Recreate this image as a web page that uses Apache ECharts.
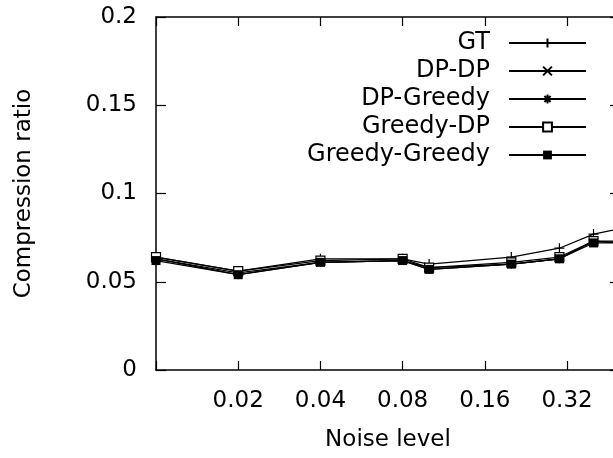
<!DOCTYPE html>
<html>
<head>
<meta charset="utf-8">
<script src="https://cdn.jsdelivr.net/npm/echarts@6/dist/echarts.min.js"></script>
<style>
html,body{margin:0;padding:0;background:#fff;}
#chart{width:613px;height:458px;}
</style>
</head>
<body>
<div id="chart"></div>
<script>
// Noise levels (x values)
var noiseLevels = [0.01, 0.02, 0.04, 0.08, 0.1, 0.2, 0.3, 0.4, 0.5];
// Compression ratio per method
var gtValues           = [0.064, 0.056, 0.063, 0.063, 0.060, 0.064, 0.069, 0.077, 0.080];
var dpDpValues         = [0.063, 0.055, 0.061, 0.062, 0.058, 0.060, 0.063, 0.073, 0.072];
var dpGreedyValues     = [0.063, 0.054, 0.061, 0.062, 0.057, 0.060, 0.063, 0.073, 0.072];
var greedyDpValues     = [0.064, 0.056, 0.062, 0.063, 0.058, 0.061, 0.064, 0.073, 0.073];
var greedyGreedyValues = [0.062, 0.054, 0.061, 0.062, 0.057, 0.060, 0.063, 0.072, 0.072];
var seriesNames = ['GT', 'DP-DP', 'DP-Greedy', 'Greedy-DP', 'Greedy-Greedy'];
// Tick labels
var xTickLabels = ['', '0.02', '0.04', '0.08', '0.16', '0.32'];
var yTickLabels = ['0', '0.05', '0.1', '0.15', '0.2'];
var xBase = 0.01;
var xMaxValue = 0.5;

function lx(v) { return Math.log(v / xBase) / Math.LN2; }
function pairs(vals) {
  return noiseLevels.map(function (n, i) { return [lx(n), vals[i]]; });
}
function xLabel(v) {
  var r = Math.round(v);
  if (Math.abs(v - r) > 1e-6) return '';
  return xTickLabels[r] || '';
}
function yLabel(v) {
  var r = Math.round(v / 0.05);
  return yTickLabels[r] || '';
}

var FONT = 'DejaVu Sans';
var chart = echarts.init(document.getElementById('chart'));

var strokeSymbolStyle = { color: 'rgba(0,0,0,0)', borderColor: '#000', borderWidth: 1.2 };
var lineStyle = { color: '#000', width: 1.2 };

function mk(name, vals, symbol, size, itemStyle) {
  return {
    name: name,
    type: 'line',
    data: pairs(vals),
    symbol: symbol,
    symbolSize: size,
    showAllSymbol: true,
    lineStyle: lineStyle,
    itemStyle: itemStyle,
    emphasis: { disabled: true },
    xAxisIndex: 0,
    yAxisIndex: 0
  };
}

function xAxisDef(pos, extra) {
  return Object.assign({
    type: 'value',
    gridIndex: 0,
    position: pos,
    min: 0,
    max: lx(xMaxValue),
    interval: 1,
    axisLine: { show: true, onZero: false, lineStyle: { color: '#000', width: 1.5 } },
    axisTick: { show: true, inside: true, length: 9, lineStyle: { color: '#000', width: 1.2 } },
    splitLine: { show: false }
  }, extra);
}
function yAxisDef(pos, extra) {
  return Object.assign({
    type: 'value',
    gridIndex: 0,
    position: pos,
    min: 0,
    max: 0.2,
    interval: 0.05,
    axisLine: { show: true, onZero: false, lineStyle: { color: '#000', width: 1.5 } },
    axisTick: { show: true, inside: true, length: 10, lineStyle: { color: '#000', width: 1.2 } },
    splitLine: { show: false }
  }, extra);
}

var option = {
  animation: false,
  backgroundColor: '#fff',
  grid: { left: 156, top: 17, width: 464, height: 353, containLabel: false, outerBoundsMode: 'none' },
  xAxis: [
    xAxisDef('bottom', {
      name: 'Noise level',
      nameLocation: 'middle',
      nameGap: 59,
      nameTextStyle: { fontFamily: FONT, fontSize: 23, color: '#000' },
      axisLabel: { formatter: xLabel, fontFamily: FONT, fontSize: 23, color: '#000', margin: 20, showMaxLabel: false }
    }),
    xAxisDef('top', { axisLabel: { show: false } })
  ],
  yAxis: [
    yAxisDef('left', {
      name: 'Compression ratio',
      nameLocation: 'middle',
      nameGap: 120,
      nameTextStyle: { fontFamily: FONT, fontSize: 23, color: '#000' },
      axisLabel: { formatter: yLabel, fontFamily: FONT, fontSize: 23, color: '#000', margin: 19 }
    }),
    yAxisDef('right', { axisLabel: { show: false } })
  ],
  legend: {
    orient: 'vertical',
    align: 'right',
    right: 26,
    top: 31,
    padding: 0,
    itemWidth: 77,
    itemHeight: 11,
    itemGap: 4,
    selectedMode: false,
    data: seriesNames,
    textStyle: { fontFamily: FONT, fontSize: 24, color: '#000', padding: [0, 14, 0, 0] }
  },
  series: [
    mk(seriesNames[0], gtValues, 'path://M1,0L1,2M0,1L2,1', 10, strokeSymbolStyle),
    mk(seriesNames[1], dpDpValues, 'path://M0,0L2,2M0,2L2,0', 8, strokeSymbolStyle),
    mk(seriesNames[2], dpGreedyValues, 'path://M1,0L1,2M0,1L2,1M0.3,0.3L1.7,1.7M0.3,1.7L1.7,0.3', 9, strokeSymbolStyle),
    mk(seriesNames[3], greedyDpValues, 'rect', 9, { color: '#fff', borderColor: '#000', borderWidth: 1.2 }),
    mk(seriesNames[4], greedyGreedyValues, 'rect', 9, { color: '#000', borderColor: '#000', borderWidth: 0 })
  ]
};
chart.setOption(option);
</script>
</body>
</html>
